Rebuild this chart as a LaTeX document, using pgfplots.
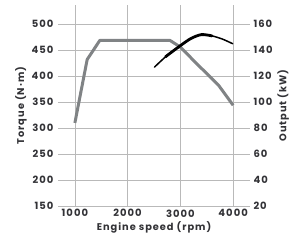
\documentclass[border=0pt]{standalone}
\usepackage{fontspec}
\setmainfont{Poppins}[BoldFont={* Bold}, LetterSpace=10]
\usepackage{pgfplots}
\pgfplotsset{compat=1.18}
\definecolor{tq}{RGB}{128,131,133}
\definecolor{gridc}{RGB}{185,185,185}
\definecolor{lab}{RGB}{50,50,54}
\begin{document}
\begin{tikzpicture}
\pgfplotsset{
  base/.style={
    scale only axis, width=192pt, height=201pt,
    xmin=680, xmax=4320,
    axis line style={draw=none},
    tick style={draw=none},
    /pgf/number format/assume math mode=true,
    /pgf/number format/set thousands separator={},
    ticklabel style={font=\bfseries\fontsize{10}{11}\selectfont, text=lab},
    label style={font=\bfseries\fontsize{9.8}{11}\selectfont, text=lab},
  }
}
\begin{axis}[base,
  ymin=150, ymax=537,
  xtick={1000,2000,3000,4000},
  ytick={150,200,...,500},
  grid=major, major grid style={gridc, line width=0.6pt},
  xlabel={Engine speed (rpm)},
  ylabel={Torque (N·m)},
  ylabel style={yshift=-2pt},
  xlabel style={yshift=2pt},
  yticklabel style={xshift=-1pt},
]
\coordinate (sw) at (rel axis cs:0,0);
\coordinate (ne) at (rel axis cs:1,1);
\addplot[tq, line width=3pt, line join=round] coordinates {
(1000,310) (1233,432) (1474,469) (2800,469) (3000,456) (3300,425) (3720,383) (4000,344)
};
\end{axis}
\begin{axis}[base,
  ymin=20, ymax=174.8,
  axis y line*=right,
  xtick=\empty,
  ytick={20,40,...,160},
  ylabel={Output (kW)},
  ylabel style={yshift=2pt},
]
\addplot[black, line width=1.5pt, smooth, line cap=round] coordinates {
(2510,127) (2750,136) (3000,143.5) (3200,149) (3400,152) (3600,151) (3800,148.5) (3990,145)
};
\addplot[black, line width=2.8pt, smooth, line cap=round] coordinates {
(2720,135) (3000,143.5) (3200,149) (3400,152) (3600,151)
};
\end{axis}
\pgfresetboundingbox
\path ([shift={(-58pt,-40pt)}]sw) rectangle ([shift={(48pt,5pt)}]ne);
\end{tikzpicture}
\end{document}
